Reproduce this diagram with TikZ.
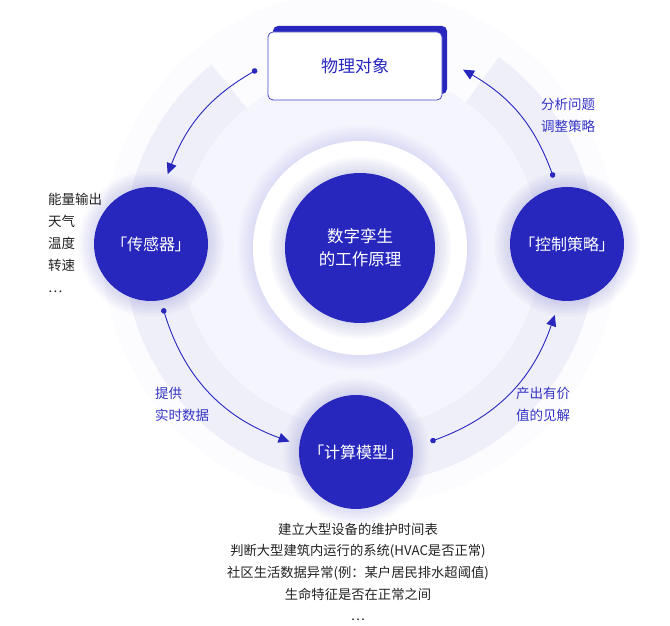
\documentclass[tikz,border=0pt]{standalone}
\usepackage{fontspec}
\setmainfont{Noto Sans CJK SC}
\newfontfamily\cjkpalt[RawFeature=+palt]{Noto Sans CJK SC}
\usepackage{tikz}
\usetikzlibrary{arrows.meta,calc,shadows}
\definecolor{dtblue}{HTML}{2727BE}
\definecolor{dtlabel}{HTML}{3434C4}
\definecolor{dtink}{HTML}{222222}
\definecolor{faint}{HTML}{FCFCFF}
\definecolor{ring}{HTML}{EFEFFA}
\definecolor{inner}{HTML}{F5F5FD}

\begin{document}
\begin{tikzpicture}
[x=1pt,y=1pt,
 disc/.style={circle,fill=dtblue,text=white,inner sep=0pt,minimum size=114pt,
   align=center,font=\cjkpalt\fontsize{16}{23}\selectfont},
 hubdisc/.style={disc,minimum size=150pt,font=\cjkpalt\fontsize{16.5}{23}\selectfont},
 objbox/.style={rectangle,rounded corners=5pt,draw=dtblue!85,line width=0.8pt,
   fill=white,minimum width=174pt,minimum height=68pt,text=dtblue,
   font=\fontsize{17}{20}\selectfont,
   drop shadow={shadow xshift=5pt,shadow yshift=6pt,fill=dtblue,opacity=1}},
 flow/.style={draw=dtblue,line width=0.9pt,
   {Circle[length=5.5pt]}-{Triangle[length=11pt,width=10pt]}},
 tag/.style={text=dtlabel,align=left,inner sep=0pt,font=\fontsize{13.5}{22}\selectfont},
 note/.style={text=dtink,inner sep=0pt,font=\fontsize{13.5}{22}\selectfont},
 glow/.style={fill=dtblue,opacity=0.02}]

\useasboundingbox (0,0) rectangle (670,626);

% backdrop
\coordinate (hub) at (360,378);
\coordinate (sen) at (151,382);
\coordinate (ctl) at (567,382);
\coordinate (mdl) at (356,174);

\fill[faint] (hub) circle[radius=258pt];
\fill[ring] ($(hub)+(129:236)$) arc[start angle=129,end angle=414,radius=236pt]
  -- ($(hub)+(54:180)$) arc[start angle=414,end angle=129,radius=180pt] -- cycle;
\fill[inner] (hub) circle[radius=180pt];
\foreach \r in {2,4,...,16}
  \fill[glow,opacity=0.012] (hub) circle[radius={(107+\r)*1pt}];
\fill[white] (hub) circle[radius=107pt];
\foreach \r in {2,4,...,16} {
  \fill[glow] (hub) circle[radius={(75+\r)*1pt}];
  \fill[glow] (sen) circle[radius={(57+\r)*1pt}];
  \fill[glow] (ctl) circle[radius={(57+\r)*1pt}];
  \fill[glow] (mdl) circle[radius={(57+\r)*1pt}];
}

% nodes
\node[hubdisc] (twin) at (hub) {数字孪生\\的工作原理};
\node[disc] (sensor) at (sen) {「传感器」};
\node[disc] (control) at (ctl) {「控制策略」};
\node[disc] (model) at (mdl) {「计算模型」};
\node[objbox] (object) at (355,560) {物理对象};

% arcs
\coordinate (a0) at ($(hub)+(120:206)$);
\coordinate (a1) at ($(hub)+(159:206)$);
\coordinate (b0) at ($(hub)+(197:206)$);
\coordinate (b1) at ($(hub)+(250:206)$);
\coordinate (c0) at ($(hub)+(290:206)$);
\coordinate (c1) at ($(hub)+(341:206)$);
\coordinate (d0) at ($(hub)+(20:206)$);
\coordinate (d1) at ($(hub)+(60:206)$);

\draw[flow] (a0) to[bend right=19.5] (a1);
\draw[flow] (b0) to[bend right=26.5] (b1);
\draw[flow] (c0) to[bend right=25.5] (c1);
\draw[flow] (d0) to[bend right=20] (d1);

% labels
\node[tag,anchor=west] (fix) at (541,511) {分析问题\\调整策略};
\node[tag,anchor=west] (feed) at (155,222) {提供\\实时数据};
\node[tag,anchor=west] (gain) at (516,222) {产出有价\\值的见解};
\node[note,anchor=west,align=left] (inputs) at (48,383)
  {能量输出\\天气\\温度\\转速\\…};
\node[note,align=center,font=\fontsize{13.3}{21.7}\selectfont] (uses) at (358,54)
  {建立大型设备的维护时间表\\判断大型建筑内运行的系统(HVAC是否正常)\\
   社区生活数据异常(例：某户居民排水超阈值)\\生命特征是否在正常之间\\…};
\end{tikzpicture}
\end{document}
